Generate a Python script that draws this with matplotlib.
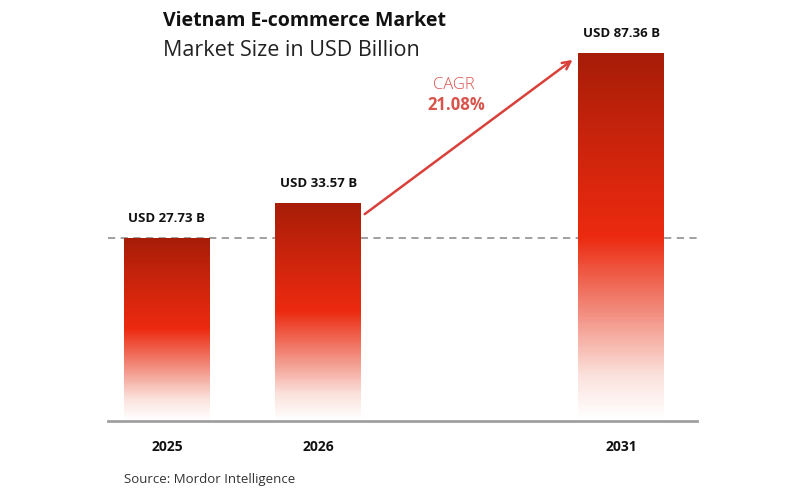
import numpy as np
import matplotlib.pyplot as plt
from matplotlib.colors import LinearSegmentedColormap

# data
years = ["2025", "2026", "2031"]
values = [27.73, 33.57, 87.36]
labels = ["USD 27.73 B", "USD 33.57 B", "USD 87.36 B"]
cagr = "21.08%"
positions = [0, 1, 3]

plt.rcParams['font.family'] = ['Open Sans', 'DejaVu Sans']

# bar gradient (bottom -> top)
cmap = LinearSegmentedColormap.from_list(
    "bar", [(0.0, "#ffffff"), (0.12, "#fbe1db"), (0.3, "#f2897a"),
            (0.5, "#ec2a10"), (0.75, "#cc240c"), (1.0, "#a61d08")])

fig = plt.figure(figsize=(8, 5), dpi=100)
ax = fig.add_axes([0.135, 0.158, 0.736, 0.762])

# stylised (non-linear) vertical scale, as in the original graphic
q = 0.3
fwd = lambda v: -np.power(np.maximum(v, 1e-6), -q)
inv = lambda u: np.power(np.maximum(-u, 1e-9), -1 / q)
ax.set_yscale('function', functions=(fwd, inv))
y0, y1 = 11.9, 96.3

width = 0.568
for x, v in zip(positions, values):
    ys = np.linspace(y0, v, 400)
    t = (fwd(ys) - fwd(y0)) / (fwd(v) - fwd(y0))
    bar = ax.bar(x, v - y0, bottom=y0, width=width, color='none',
                 edgecolor='none')[0]
    im = ax.imshow(t.reshape(-1, 1), cmap=cmap, aspect='auto', origin='lower',
                   extent=[x - width / 2, x + width / 2, y0, v], zorder=2,
                   vmin=0, vmax=1)
    im.set_clip_path(bar)

ax.set_xlim(-0.389, 3.498)
ax.set_ylim(y0, y1)

# bar labels
for x, v, lab in zip(positions, values, labels):
    ax.annotate(lab, (x, v), xytext=(0, 9), textcoords='offset points',
                ha='center', va='bottom', fontsize=9.5, fontweight='bold',
                color='#111111')

# dashed reference line at first value
ax.axhline(values[0], color='#999999', lw=1.3, ls=(0, (4, 3)), zorder=1)

# baseline
ax.axhline(y0, color='#a0a0a0', lw=2, zorder=3, clip_on=False)

for s in ax.spines.values():
    s.set_visible(False)
ax.set_yticks([])
ax.minorticks_off()
ax.set_xticks(positions)
ax.set_xticklabels(years, fontsize=10, fontweight='bold', color='#111111')
ax.tick_params(axis='x', length=0, pad=14)
ax.tick_params(axis='y', which='both', length=0, labelleft=False)

# CAGR arrow
ax.annotate("", xy=(0.789, 0.948), xytext=(0.436, 0.543),
            xycoords='axes fraction', textcoords='axes fraction',
            arrowprops=dict(arrowstyle='->', color='#d9403a', lw=1.8,
                            mutation_scale=14, shrinkA=0, shrinkB=0))
fig.text(0.567, 0.830, "CAGR", ha='center', va='center', fontsize=12,
         color='#d9534d', fontweight='light')
fig.text(0.570, 0.790, cagr, ha='center', va='center', fontsize=12,
         color='#d9534d', fontweight='bold')

# titles
fig.text(0.204, 0.957, "Vietnam E-commerce Market", ha='left', va='center',
         fontsize=14, fontweight='bold', color='#111111')
fig.text(0.204, 0.900, "Market Size in USD Billion", ha='left', va='center',
         fontsize=15.5, color='#222222')
fig.text(0.155, 0.042, "Source: Mordor Intelligence", ha='left', va='center',
         fontsize=9.5, color='#333333')

fig.savefig("out.png", dpi=100)
